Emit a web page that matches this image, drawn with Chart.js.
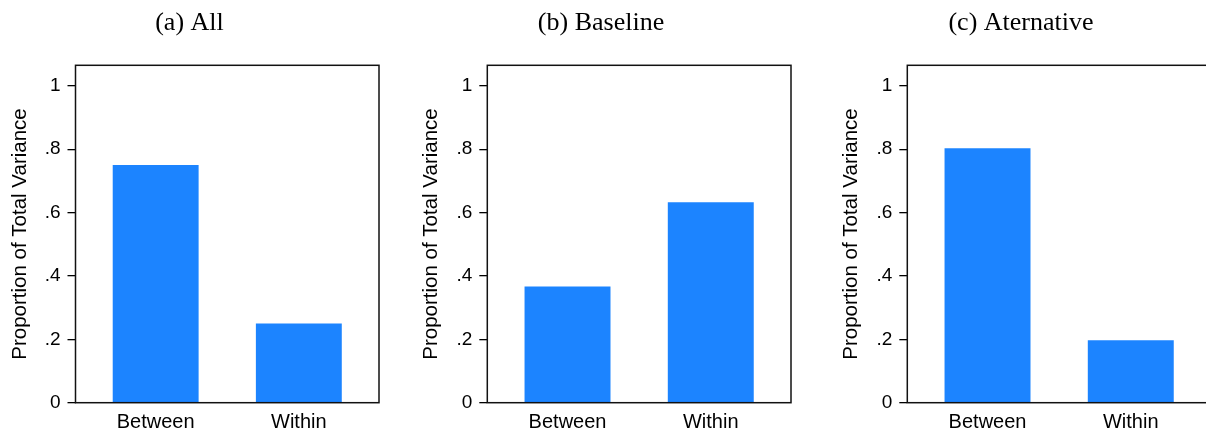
<!DOCTYPE html>
<html lang="en">
<head>
    <meta charset="UTF-8">
    <title>Variance decomposition</title>
    <script src="https://cdn.jsdelivr.net/npm/chart.js@4"></script>
    <style>
        body {
            margin: 0;
            padding: 0;
            width: 1206px;
            height: 429px;
            overflow: hidden;
            background: #fff;
            position: relative;
        }
        .panel {
            position: absolute;
            top: 0;
            height: 429px;
        }
        canvas {
            display: block;
        }
    </style>
</head>
<body>

    <!-- three side-by-side panels -->
    <div class="panel" style="left:0px"><canvas id="chartA" width="382" height="429"></canvas></div>
    <div class="panel" style="left:411px"><canvas id="chartB" width="383" height="429"></canvas></div>
    <div class="panel" style="left:831px"><canvas id="chartC" width="383" height="429"></canvas></div>

    <script>
        const categories = ['Between', 'Within'];
        const panelTitles = ['(a) All', '(b) Baseline', '(c) Aternative'];
        const allShares = [0.75, 0.25];
        const baselineShares = [0.367, 0.633];
        const alternativeShares = [0.803, 0.197];
        const yTicks = [0, 0.2, 0.4, 0.6, 0.8, 1];
        const yTickLabels = ['0', '.2', '.4', '.6', '.8', '1'];

        const sans = "'Liberation Sans', Arial, Helvetica, sans-serif";
        const serif = "'Liberation Serif', 'Times New Roman', serif";

        // box around the plot region
        const frame = {
            id: 'frame',
            afterDatasetsDraw(chart) {
                const a = chart.chartArea;
                const ctx = chart.ctx;
                ctx.save();
                ctx.strokeStyle = '#111';
                ctx.lineWidth = 1.5;
                ctx.strokeRect(a.left, a.top, a.right - a.left, a.bottom - a.top);
                ctx.restore();
            }
        };

        function makePanel(id, title, shares, axisWidth) {
            new Chart(document.getElementById(id), {
                type: 'bar',
                data: {
                    datasets: [{
                        data: shares.map((v, i) => ({ x: i + 1, y: v })),
                        backgroundColor: '#1c84ff',
                        borderWidth: 0,
                        barPercentage: 0.6,
                        categoryPercentage: 1
                    }]
                },
                options: {
                    responsive: false,
                    animation: false,
                    devicePixelRatio: 1,
                    layout: { padding: { left: 0, right: 3, top: 0, bottom: 0 } },
                    plugins: {
                        legend: { display: false },
                        tooltip: { enabled: false },
                        title: {
                            display: true,
                            text: title,
                            color: '#000',
                            font: { family: serif, size: 26, weight: 'normal' },
                            padding: { top: 7.8, bottom: 26.3 }
                        }
                    },
                    scales: {
                        x: {
                            type: 'linear',
                            offset: false,
                            min: 0.44,
                            max: 2.56,
                            grid: { display: false },
                            border: { display: false },
                            afterBuildTicks: s => { s.ticks = categories.map((c, i) => ({ value: i + 1 })); },
                            afterFit: s => { s.height = 26.3; },
                            ticks: {
                                color: '#000',
                                padding: 0,
                                font: { family: sans, size: 20 },
                                callback: (v, i) => categories[i]
                            }
                        },
                        y: {
                            min: 0,
                            max: 1.065,
                            border: { display: false },
                            grid: { drawOnChartArea: false, drawTicks: true, tickLength: 8, color: '#000', lineWidth: 1.3 },
                            afterBuildTicks: s => { s.ticks = yTicks.map(v => ({ value: v })); },
                            afterFit: s => { s.width = axisWidth; },
                            ticks: {
                                color: '#000',
                                padding: 7,
                                font: { family: sans, size: 19 },
                                callback: (v, i) => yTickLabels[i]
                            },
                            title: {
                                display: true,
                                text: 'Proportion of Total Variance',
                                color: '#000',
                                font: { family: sans, size: 20.5 },
                                padding: { top: 7.7, bottom: 0 }
                            }
                        }
                    }
                },
                plugins: [frame]
            });
        }

        makePanel('chartA', panelTitles[0], allShares, 75.5);
        makePanel('chartB', panelTitles[1], baselineShares, 76.3);
        makePanel('chartC', panelTitles[2], alternativeShares, 76.3);
    </script>

</body>
</html>
